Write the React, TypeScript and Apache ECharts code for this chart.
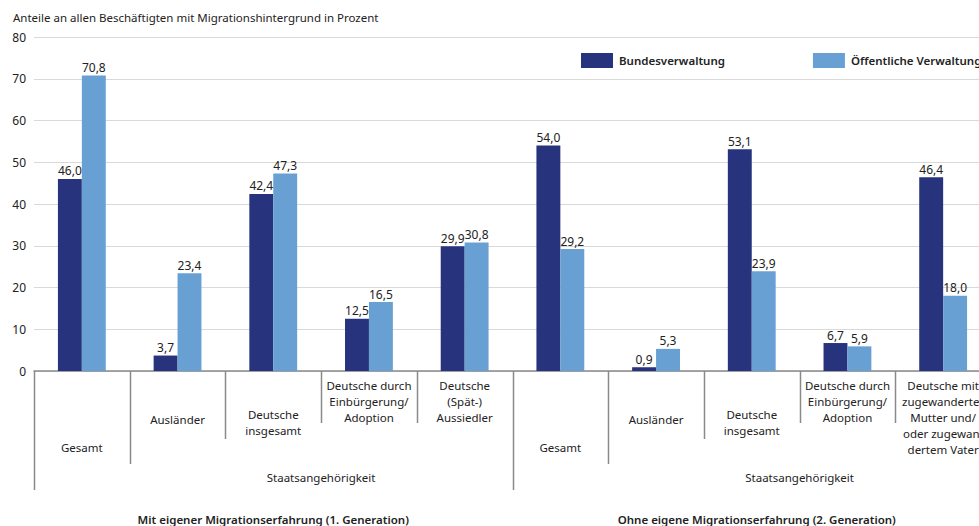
import React, { useEffect, useRef } from "react";
import * as echarts from "echarts";

// Category labels (first and second generation, five groups each)
const categories = [
  "Gesamt",
  "Ausländer",
  "Deutsche\ninsgesamt",
  "Deutsche durch\nEinbürgerung/\nAdoption",
  "Deutsche\n(Spät-)\nAussiedler",
  "Gesamt",
  "Ausländer",
  "Deutsche\ninsgesamt",
  "Deutsche durch\nEinbürgerung/\nAdoption",
  "Deutsche mit\nzugewanderter\nMutter und/\noder zugewan-\ndertem Vater",
];

const seriesNames = ["Bundesverwaltung", "Öffentliche Verwaltung"];
const bundesverwaltung = [46.0, 3.7, 42.4, 12.5, 29.9, 54.0, 0.9, 53.1, 6.7, 46.4];
const oeffentlicheVerwaltung = [70.8, 23.4, 47.3, 16.5, 30.8, 29.2, 5.3, 23.9, 5.9, 18.0];

const yTicks = [0, 10, 20, 30, 40, 50, 60, 70, 80];

const yAxisTitle = "Anteile an allen Beschäftigten mit Migrationshintergrund in Prozent";
const subGroupLabel = "Staatsangehörigkeit";
const groupLabels = [
  "Mit eigener Migrationserfahrung (1. Generation)",
  "Ohne eigene Migrationserfahrung (2. Generation)",
];

const FONT = '"Noto Sans", "Open Sans", sans-serif';
const FS = 11.5;
const DARK = "#28337e";
const LIGHT = "#69a0d4";
const TEXT = "#222";

// Layout of the hierarchical header below the axis
const labelFirstLineY = [447, 419, 414, 385, 385, 447, 419, 414, 385, 385];
const dividerBottom = [490, 464, 439, 423, 423, 490, 464, 439, 423, 423, 490];
const LINE_H = 16;

const fmt = (v: number) => v.toFixed(1).replace(".", ",");

export default function App() {
  const ref = useRef<HTMLDivElement>(null);

  useEffect(() => {
    if (!ref.current) return;
    const chart = echarts.init(ref.current, undefined, { renderer: "svg" });

    const labelStyle = {
      show: true,
      position: "top" as const,
      distance: 2,
      color: TEXT,
      fontFamily: FONT,
      fontSize: 12,
      formatter: (p: any) => fmt(p.value),
    };

    chart.setOption({
      animation: false,
      textStyle: { fontFamily: FONT },
      grid: {
        left: 34,
        top: 37,
        width: 957,
        height: 334,
        containLabel: false,
        outerBoundsMode: "none",
      },
      legend: {
        left: 576,
        top: 48,
        width: 800,
        orient: "horizontal",
        itemWidth: 32,
        itemHeight: 15,
        itemGap: 88,
        icon: "rect",
        textStyle: { fontFamily: FONT, fontSize: FS, fontWeight: 600, color: TEXT, padding: [0, 0, 0, 1] },
        data: seriesNames,
      },
      xAxis: {
        type: "category",
        data: categories,
        axisLine: { show: true, lineStyle: { color: "#8a8a8a", width: 1.5 } },
        axisTick: { show: false },
        axisLabel: { show: false },
      },
      yAxis: {
        type: "value",
        min: yTicks[0],
        max: yTicks[yTicks.length - 1],
        interval: 10,
        axisLine: { show: false },
        axisTick: { show: false },
        axisLabel: { color: TEXT, fontFamily: FONT, fontSize: 12, margin: 8 },
        splitLine: { lineStyle: { color: "#d9d9d9", width: 1 } },
      },
      series: [
        {
          name: seriesNames[0],
          type: "bar",
          data: bundesverwaltung,
          itemStyle: { color: DARK },
          barGap: "0%",
          barCategoryGap: "50%",
          label: labelStyle,
        },
        {
          name: seriesNames[1],
          type: "bar",
          data: oeffentlicheVerwaltung,
          itemStyle: { color: LIGHT },
          label: labelStyle,
        },
      ],
    });

    // Build the header cells from the category scale
    const c0 = chart.convertToPixel({ xAxisIndex: 0 }, 0) as number;
    const c1 = chart.convertToPixel({ xAxisIndex: 0 }, 1) as number;
    const band = c1 - c0;
    const y0 = chart.convertToPixel({ yAxisIndex: 0 }, 0) as number;
    const boundary = (i: number) => c0 - band / 2 + i * band;

    const elements: any[] = [];
    const lineStyle = { stroke: "#8a8a8a", lineWidth: 1.5 };

    for (let i = 0; i <= categories.length; i++) {
      const x = Math.round(boundary(i)) + 0.5;
      elements.push({
        type: "line",
        shape: { x1: x, y1: y0, x2: x, y2: dividerBottom[i] },
        style: lineStyle,
        silent: true,
      });
    }

    categories.forEach((text, i) => {
      elements.push({
        type: "text",
        x: boundary(i) + band / 2,
        y: labelFirstLineY[i] - LINE_H / 2,
        style: {
          text,
          align: "center",
          verticalAlign: "top",
          lineHeight: LINE_H,
          fontFamily: FONT,
          fontSize: FS,
          fill: TEXT,
        },
        silent: true,
      });
    });

    [0, 5].forEach((start, g) => {
      elements.push({
        type: "text",
        x: (boundary(start + 1) + boundary(start + 5)) / 2,
        y: 477,
        style: {
          text: subGroupLabel,
          align: "center",
          verticalAlign: "middle",
          fontFamily: FONT,
          fontSize: FS,
          fill: TEXT,
        },
        silent: true,
      });
      elements.push({
        type: "text",
        x: (boundary(start) + boundary(start + 5)) / 2 + (g === 1 ? 5 : 0),
        y: 519,
        style: {
          text: groupLabels[g],
          align: "center",
          verticalAlign: "middle",
          fontFamily: FONT,
          fontSize: FS,
          fontWeight: 600,
          fill: TEXT,
        },
        silent: true,
      });
    });

    elements.push({
      type: "text",
      left: 13,
      top: 11,
      style: {
        text: yAxisTitle,
        fontFamily: FONT,
        fontSize: FS,
        fill: TEXT,
      },
      silent: true,
    });

    chart.setOption({ graphic: { elements } });

    return () => chart.dispose();
  }, []);

  return (
    <div
      ref={ref}
      style={{ position: "fixed", left: 0, top: 0, width: 979, height: 526, background: "#fff" }}
    />
  );
}
